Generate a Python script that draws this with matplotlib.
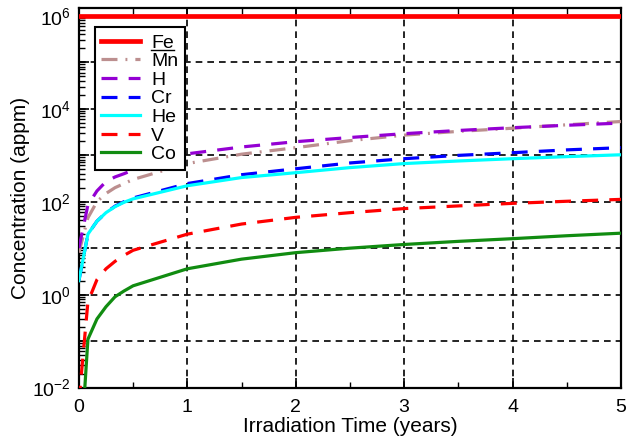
import matplotlib
matplotlib.use("Agg")
import matplotlib.pyplot as plt
import numpy as np
from matplotlib.lines import Line2D
from matplotlib.ticker import FixedLocator, FuncFormatter, LogLocator, MultipleLocator

# ----------------------
# data
# ----------------------
t = [0.0, 1/12, 2/12, 3/12, 4/12, 5/12, 6/12, 1.0, 1.5, 2.0, 2.5, 3.0, 3.5, 4.0, 4.5, 5.0]

fe = [1e6] * len(t)
mn = [8, 45, 100, 150, 200, 245, 300, 660, 1050, 1450, 2050, 2700, 3250, 3800, 4500, 5300]
h = [10, 85, 170, 270, 340, 400, 480, 1070, 1500, 1950, 2400, 2900, 3400, 3900, 4400, 4900]
cr = [2, 20, 38, 58, 80, 100, 120, 245, 380, 510, 680, 840, 990, 1130, 1300, 1450]
he = [2, 20, 38, 58, 78, 97, 115, 220, 330, 420, 540, 660, 750, 840, 930, 1020]
v = [0.005, 0.7, 2.1, 3.6, 5.2, 7, 9, 20, 33, 46, 58, 71, 81, 92, 102, 112]
co = [1e-4, 0.11, 0.3, 0.55, 0.9, 1.2, 1.55, 3.6, 5.8, 8, 10, 12, 14, 16, 18.5, 21]

# ----------------------
# style
# ----------------------
plt.rcParams["font.family"] = ["Liberation Sans", "DejaVu Sans"]
plt.rcParams["mathtext.fontset"] = "custom"
plt.rcParams["mathtext.rm"] = "Liberation Sans"
plt.rcParams["mathtext.it"] = "Liberation Sans:italic"
plt.rcParams["mathtext.default"] = "regular"

fig = plt.figure(figsize=(6.26, 4.42), dpi=100)
ax = fig.add_axes([0.126, 0.123, 0.866, 0.860])

series = [
    ("Fe", fe, "#FF0000", "-", 3.4),
    ("Mn", mn, "#BC8F8F", (0, (5, 2.5, 0.6, 2.5)), 2.3),
    ("H", h, "#9400D3", (0, (5, 3.5)), 2.3),
    ("Cr", cr, "#0000FF", (0, (5, 3.5)), 2.3),
    ("He", he, "#00FFFF", "-", 2.3),
    ("V", v, "#FF0000", (0, (5, 3.5)), 2.3),
    ("Co", co, "#118C11", "-", 2.3),
]

for label, y, color, ls, lw in series:
    ax.plot(t, y, color=color, linestyle=ls, linewidth=lw, label=label, zorder=3)

ax.set_yscale("log")
ax.set_xlim(0, 5)
ax.set_ylim(1e-2, 1.5e6)

# grid lines at every decade / every year
for k in range(-1, 6):
    ax.axhline(10.0 ** k, color="black", linestyle=(0, (4, 3)), linewidth=1.2, zorder=1)
for xv in [1, 2, 3, 4]:
    ax.axvline(xv, color="black", linestyle=(0, (4, 3)), linewidth=1.2, zorder=1)

# ticks
decades = [10.0 ** k for k in range(-2, 7)]
ax.yaxis.set_major_locator(FixedLocator(decades))
ax.yaxis.set_major_formatter(FuncFormatter(
    lambda val, pos: r"$10^{%d}$" % round(np.log10(val)) if round(np.log10(val)) % 2 == 0 else ""))
ax.yaxis.set_minor_locator(LogLocator(base=10, subs=np.arange(2, 10), numticks=20))
ax.yaxis.set_minor_formatter(FuncFormatter(lambda val, pos: ""))
ax.xaxis.set_major_locator(MultipleLocator(1))
ax.xaxis.set_minor_locator(MultipleLocator(0.5))

ax.tick_params(axis="both", which="major", direction="in", length=7, width=1.2, labelsize=14)
ax.tick_params(axis="both", which="minor", direction="in", length=4, width=1.0)
ax.tick_params(axis="x", which="both", top=True, bottom=True)
ax.tick_params(axis="y", which="both", left=True, right=False)
ax.tick_params(axis="x", which="major", pad=8)
ax.tick_params(axis="y", which="major", pad=6)

for sp in ax.spines.values():
    sp.set_linewidth(1.6)

ax.set_xlabel("Irradiation Time (years)", fontsize=15, labelpad=1)
ax.set_ylabel("Concentration (appm)", fontsize=15, labelpad=1)

leg = ax.legend(loc="upper left", bbox_to_anchor=(0.029, 0.948), fontsize=14,
                frameon=True, fancybox=False, edgecolor="black", framealpha=1,
                handlelength=2.0, handletextpad=0.55, labelspacing=0.05,
                borderpad=0.35, borderaxespad=0)
leg.get_frame().set_linewidth(1.5)
leg.set_zorder(5)

# underline under the "Fe" legend entry
fig.canvas.draw()
bb = leg.get_texts()[0].get_window_extent().transformed(fig.transFigure.inverted())
fig.add_artist(Line2D([bb.x0, bb.x1], [bb.y0 + 0.003, bb.y0 + 0.003],
                      transform=fig.transFigure, color="black", linewidth=1.0, zorder=6))

plt.savefig("out.png", dpi=100)
plt.close()
